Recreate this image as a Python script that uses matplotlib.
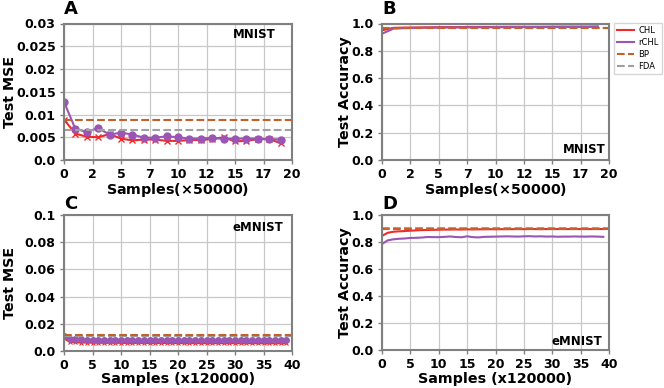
import numpy as np
import matplotlib
matplotlib.use("Agg")
import matplotlib.pyplot as plt
from matplotlib.lines import Line2D

plt.rcParams['font.family'] = ['DejaVu Sans']
plt.rcParams['mathtext.default'] = 'regular'

# ---------------- data ----------------
x_mnist = list(range(20))
mse_chl_mnist = [0.0089, 0.0058, 0.0051, 0.0050, 0.0057, 0.0047, 0.0043, 0.0045, 0.0045, 0.0042,
                 0.0042, 0.0044, 0.0044, 0.0046, 0.0050, 0.0041, 0.0042, 0.0046, 0.0046, 0.0037]
mse_rchl_mnist = [0.0128, 0.0068, 0.0062, 0.0070, 0.0056, 0.0060, 0.0056, 0.0049, 0.0049, 0.0052,
                  0.0050, 0.0047, 0.0047, 0.0049, 0.0046, 0.0047, 0.0047, 0.0047, 0.0046, 0.0045]
mse_bp_mnist = 0.0087
mse_fda_mnist = 0.0066

acc_chl_mnist = [0.950, 0.968, 0.970, 0.971, 0.972, 0.973, 0.974, 0.974, 0.975, 0.975,
                 0.975, 0.976, 0.976, 0.976, 0.976, 0.977, 0.977, 0.977, 0.977, 0.977]
acc_rchl_mnist = [0.925, 0.962, 0.966, 0.968, 0.969, 0.970, 0.971, 0.971, 0.972, 0.972,
                  0.973, 0.973, 0.973, 0.974, 0.974, 0.974, 0.975, 0.975, 0.975, 0.978]
acc_bp_mnist = 0.965
acc_fda_mnist = 0.968

x_emnist = list(range(40))
mse_chl_emnist = [0.0095, 0.0068, 0.0064, 0.0062, 0.0062, 0.0061, 0.0061, 0.0060, 0.0060, 0.0060,
                  0.0060, 0.0059, 0.0059, 0.0060, 0.0059, 0.0059, 0.0059, 0.0059, 0.0059, 0.0059,
                  0.0058, 0.0059, 0.0058, 0.0058, 0.0058, 0.0058, 0.0058, 0.0058, 0.0058, 0.0058,
                  0.0058, 0.0058, 0.0058, 0.0057, 0.0058, 0.0057, 0.0057, 0.0057, 0.0057, 0.0057]
mse_rchl_emnist = [0.0113, 0.0088, 0.0086, 0.0085, 0.0084, 0.0084, 0.0083, 0.0083, 0.0082, 0.0083,
                   0.0082, 0.0082, 0.0082, 0.0081, 0.0082, 0.0082, 0.0081, 0.0081, 0.0081, 0.0081,
                   0.0081, 0.0081, 0.0081, 0.0081, 0.0081, 0.0081, 0.0081, 0.0081, 0.0081, 0.0081,
                   0.0081, 0.0081, 0.0081, 0.0081, 0.0081, 0.0082, 0.0082, 0.0082, 0.0083, 0.0084]
mse_bp_emnist = 0.0115
mse_fda_emnist = 0.0112

acc_chl_emnist = [0.845, 0.868, 0.876, 0.879, 0.881, 0.884, 0.886, 0.888, 0.889, 0.890,
                  0.891, 0.892, 0.892, 0.893, 0.892, 0.894, 0.893, 0.894, 0.894, 0.895,
                  0.894, 0.895, 0.895, 0.895, 0.896, 0.895, 0.896, 0.896, 0.895, 0.896,
                  0.896, 0.896, 0.896, 0.896, 0.896, 0.896, 0.896, 0.896, 0.896, 0.896]
acc_rchl_emnist = [0.785, 0.812, 0.820, 0.824, 0.826, 0.830, 0.831, 0.833, 0.837, 0.836,
                   0.836, 0.838, 0.841, 0.837, 0.835, 0.842, 0.836, 0.834, 0.838, 0.839,
                   0.840, 0.841, 0.842, 0.841, 0.840, 0.842, 0.843, 0.841, 0.842, 0.840,
                   0.841, 0.839, 0.840, 0.840, 0.841, 0.840, 0.840, 0.841, 0.840, 0.838]
acc_bp_emnist = 0.900
acc_fda_emnist = 0.903

c_chl = '#ee2a2a'
c_rchl = '#9b55b4'
c_bp = '#c4602a'
c_fda = '#a0a0a0'

W, H = 664, 388
fig = plt.figure(figsize=(W / 100, H / 100), dpi=100)

def rect(x0, x1, ytop, ybot):
    return [x0 / W, (H - ybot) / H, (x1 - x0) / W, (ybot - ytop) / H]

axA = fig.add_axes(rect(64, 292, 23.5, 160))
axB = fig.add_axes(rect(382, 609, 23.5, 160))
axC = fig.add_axes(rect(64, 292, 215, 351))
axD = fig.add_axes(rect(382, 609, 215, 350))

def style(ax, xmax, xstep, ymax, ystep, yfmt):
    ax.set_xlim(0, xmax)
    ax.set_ylim(0, ymax)
    xt = np.arange(0, xmax + 1e-9, xstep)
    ax.set_xticks(xt)
    ax.set_xticklabels([str(int(v)) for v in xt])
    yt = np.arange(0, ymax + 1e-12, ystep)
    ax.set_yticks(yt)
    ax.set_yticklabels([yfmt(v) for v in yt])
    ax.grid(True, color='#c8c8c8', linewidth=0.9)
    ax.set_axisbelow(True)
    for s in ax.spines.values():
        s.set_color('#808080')
        s.set_linewidth(1.5)
    ax.tick_params(colors='#808080', labelcolor='black', length=3, width=1, labelsize=9, pad=3)
    for lab in ax.get_xticklabels() + ax.get_yticklabels():
        lab.set_fontweight('bold')

def fmt_mse_a(v):
    if abs(v) < 1e-12:
        return '0.0'
    return ('%g' % round(v, 4))

def fmt1(v):
    return '%.1f' % v

def fmt_c(v):
    if abs(v) < 1e-12:
        return '0.0'
    return '%g' % round(v, 3)

lw = 1.5
# Panel A
axA.plot(x_mnist, mse_chl_mnist, color=c_chl, lw=lw, marker='x', ms=4, mew=1)
axA.plot(x_mnist, mse_rchl_mnist, color=c_rchl, lw=lw, marker='o', ms=5)
axA.axhline(mse_bp_mnist, color=c_bp, lw=1.5, ls='--')
axA.axhline(mse_fda_mnist, color=c_fda, lw=1.5, ls='--')
style(axA, 20, 2.5, 0.03, 0.005, fmt_mse_a)

# Panel B
axB.plot(x_mnist, acc_chl_mnist, color=c_chl, lw=lw)
axB.plot(x_mnist, acc_rchl_mnist, color=c_rchl, lw=lw)
axB.axhline(acc_fda_mnist, color=c_fda, lw=1.5, ls='--')
axB.axhline(acc_bp_mnist, color=c_bp, lw=1.5, ls='--')
style(axB, 20, 2.5, 1.0, 0.2, fmt1)

# Panel C
axC.plot(x_emnist, mse_chl_emnist, color=c_chl, lw=lw, marker='x', ms=3, mew=0.8)
axC.plot(x_emnist, mse_rchl_emnist, color=c_rchl, lw=lw, marker='o', ms=4)
axC.axhline(mse_fda_emnist, color=c_fda, lw=1.5, ls='--')
axC.axhline(mse_bp_emnist, color=c_bp, lw=1.5, ls='--')
style(axC, 40, 5, 0.1, 0.02, fmt_c)

# Panel D
axD.plot(x_emnist, acc_chl_emnist, color=c_chl, lw=lw)
axD.plot(x_emnist, acc_rchl_emnist, color=c_rchl, lw=lw)
axD.axhline(acc_fda_emnist, color=c_fda, lw=1.5, ls='--')
axD.axhline(acc_bp_emnist, color=c_bp, lw=1.5, ls='--')
style(axD, 40, 5, 1.0, 0.2, fmt1)

lab_kw = dict(fontsize=10.3, fontweight='bold')
axA.set_ylabel('Test MSE', **lab_kw)
axC.set_ylabel('Test MSE', **lab_kw)
axB.set_ylabel('Test Accuracy', **lab_kw)
axD.set_ylabel('Test Accuracy', **lab_kw)
axA.set_xlabel(r'Samples$(\times50000)$', **lab_kw)
axB.set_xlabel(r'Samples$(\times50000)$', **lab_kw)
axC.set_xlabel('Samples (x120000)', **lab_kw)
axD.set_xlabel('Samples (x120000)', **lab_kw)

axA.yaxis.set_label_coords((17 - 64) / 228, 0.5)
axC.yaxis.set_label_coords((17 - 64) / 228, 0.5)
axB.yaxis.set_label_coords((352 - 382) / 227, 0.5)
axD.yaxis.set_label_coords((352 - 382) / 227, 0.5)
axA.xaxis.set_label_coords(0.5, -(181 - 160) / 136.5)
axB.xaxis.set_label_coords(0.5, -(181 - 160) / 136.5)
axC.xaxis.set_label_coords(0.5, -(372.5 - 351) / 136)
axD.xaxis.set_label_coords(0.5, -(372.5 - 350) / 135)

for ax, letter, yy in [(axA, 'A', 1.07), (axB, 'B', 1.07), (axC, 'C', 1.045), (axD, 'D', 1.045)]:
    ax.text(0.0, yy, letter, transform=ax.transAxes, fontsize=13, fontweight='bold',
            va='baseline', ha='left')

txt_kw = dict(fontsize=8.5, fontweight='bold')
axA.text(0.93, 0.965, 'MNIST', transform=axA.transAxes, ha='right', va='top', **txt_kw)
axB.text(0.985, 0.03, 'MNIST', transform=axB.transAxes, ha='right', va='bottom', **txt_kw)
axC.text(0.96, 0.955, 'eMNIST', transform=axC.transAxes, ha='right', va='top', **txt_kw)
axD.text(0.969, 0.015, 'eMNIST', transform=axD.transAxes, ha='right', va='bottom', **txt_kw)

handles = [Line2D([], [], color=c_chl, lw=1.5),
           Line2D([], [], color=c_rchl, lw=1.5),
           Line2D([], [], color=c_bp, lw=1.5, ls='--'),
           Line2D([], [], color=c_fda, lw=1.5, ls='--')]
fig.legend(handles, ['CHL', 'rCHL', 'BP', 'FDA'], loc='upper left',
           bbox_to_anchor=(614 / W, (H - 23) / H), fontsize=6, frameon=True,
           handlelength=2.0, borderpad=0.35, labelspacing=0.35, handletextpad=0.6,
           borderaxespad=0, fancybox=False, edgecolor='#cccccc')

fig.savefig('out.png', dpi=100)
